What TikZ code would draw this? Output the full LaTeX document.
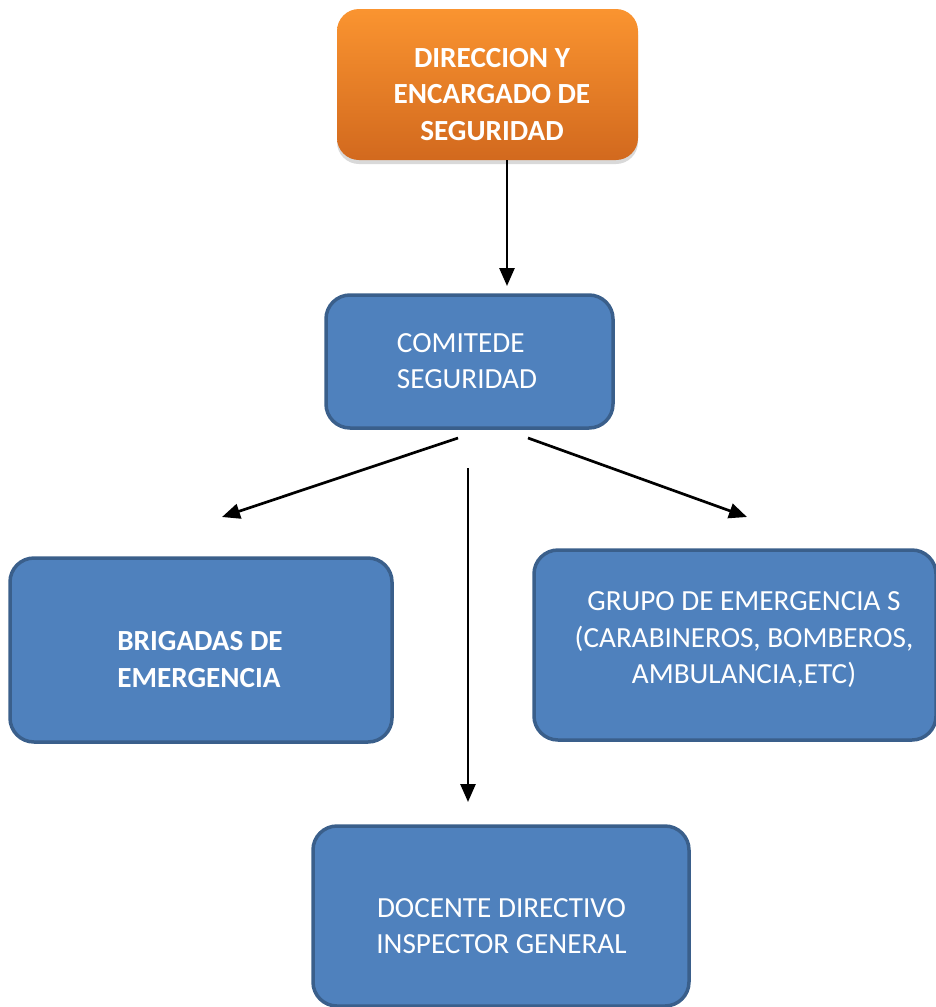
\documentclass[tikz,border=0pt]{standalone}
\usepackage{fontspec}
\setmainfont{Carlito}
\usetikzlibrary{arrows.meta,shadows}
\definecolor{boxblue}{HTML}{4F81BD}
\definecolor{boxline}{HTML}{3A5F8B}
\definecolor{orangetop}{HTML}{FA9430}
\definecolor{orangebot}{HTML}{D2691E}
\tikzset{
  bluebox/.style={rectangle, rounded corners=24pt, draw=boxline, line width=3.5pt,
    fill=boxblue, inner sep=0pt},
  orangebox/.style={rectangle, rounded corners=22pt, top color=orangetop,
    bottom color=orangebot, inner sep=0pt,
    drop shadow={shadow xshift=0pt, shadow yshift=-4pt, opacity=0.3}},
  boxtext/.style={text=white, inner sep=0pt, font=\fontsize{29.2}{36.5}\selectfont},
  link/.style={line width=2.7pt, -{Triangle[length=18pt,width=15pt]}}
}
\begin{document}
\begin{tikzpicture}[x=1pt, y=-1pt]
  \useasboundingbox (0,0) rectangle (935,1007);

  % boxes
  \node[orangebox, minimum width=301pt, minimum height=151pt] (direccion) at (487.5,84.5) {};
  \node[bluebox, minimum width=287pt, minimum height=133pt] (comite) at (469.5,361.5) {};
  \node[bluebox, minimum width=382pt, minimum height=184pt] (brigadas) at (201,650) {};
  \node[bluebox, minimum width=402pt, minimum height=190pt] (grupo) at (735,645) {};
  \node[bluebox, minimum width=376pt, minimum height=180pt] (docente) at (501,916) {};

  % texts
  \node[boxtext, align=center, font=\fontsize{29.2}{36.5}\selectfont\bfseries]
    (direccion-t) at (492,94.5) {DIRECCION Y\\ENCARGADO DE\\SEGURIDAD};
  \node[boxtext, align=left] (comite-t) at (467,361) {COMITEDE\\SEGURIDAD};
  \node[boxtext, align=left, font=\fontsize{29.2}{36.5}\selectfont\bfseries]
    (brigadas-t) at (200,659.5) {BRIGADAS DE\\EMERGENCIA};
  \node[boxtext, align=center] (grupo-t) at (744,640) {GRUPO DE EMERGENCIA S\\(CARABINEROS, BOMBEROS,\\AMBULANCIA,ETC)};
  \node[boxtext, align=center] (docente-t) at (501.5,926) {DOCENTE DIRECTIVO\\INSPECTOR GENERAL};

  % free ends of the connectors
  \coordinate (a1) at (507,160);
  \coordinate (a2) at (507,286);
  \coordinate (b1) at (458,438);
  \coordinate (b2) at (222,517);
  \coordinate (c1) at (468,468);
  \coordinate (c2) at (468,802);
  \coordinate (d1) at (528,438);
  \coordinate (d2) at (747,517);

  \draw[link] (a1) -- (a2);
  \draw[link] (b1) -- (b2);
  \draw[link] (c1) -- (c2);
  \draw[link] (d1) -- (d2);
\end{tikzpicture}
\end{document}
